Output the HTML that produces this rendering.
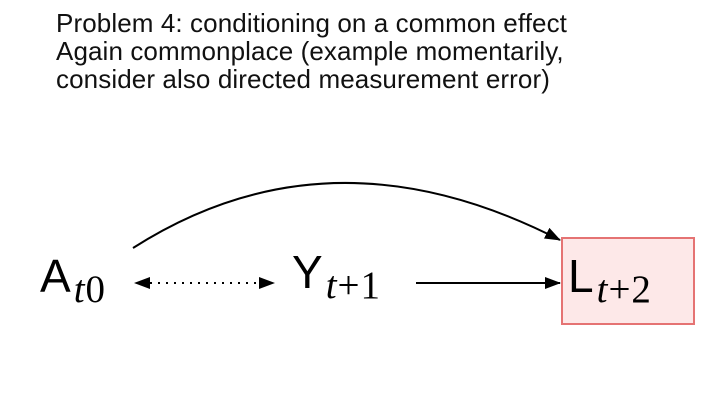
<!DOCTYPE html>
<html><head><style>
html,body{margin:0;padding:0;background:#fff;width:720px;height:405px;overflow:hidden;position:relative;font-family:"Liberation Sans",sans-serif}
.t{position:absolute;left:56px;top:9px;font-size:26px;line-height:28px;color:#111;letter-spacing:0.1px}
.n{position:absolute;font-size:46px;color:#000}
.n span{font-family:"Liberation Serif",serif;font-size:39px;position:relative;top:10px;margin-left:3px;letter-spacing:1px}
</style></head><body>
<div class="t">Problem 4: conditioning on a common effect<br>Again commonplace (example momentarily,<br>consider also directed measurement error)</div>
<svg width="720" height="405" style="position:absolute;left:0;top:0">
<defs><marker id="b" markerWidth="16" markerHeight="12" refX="15" refY="6" orient="auto" markerUnits="userSpaceOnUse"><path d="M0,0 L16,6 L0,12 Z" fill="#000"/></marker></defs>
<rect x="562" y="238" width="132" height="86" fill="#fde8e8" stroke="#e57373" stroke-width="2"/>
<path d="M133,248 Q330,122 560,240" fill="none" stroke="#000" stroke-width="2" marker-end="url(#b)"/>
<line x1="150" y1="283" x2="274" y2="283" stroke="#000" stroke-width="2" stroke-dasharray="2,6" marker-end="url(#b)"/>
<path d="M134,283 L150,277 L150,289 Z" fill="#000"/>
<line x1="416" y1="283" x2="560" y2="283" stroke="#000" stroke-width="2" marker-end="url(#b)"/>
</svg>
<div class="n" style="left:40px;top:249px">A<span><i>t</i>0</span></div>
<div class="n" style="left:292px;top:245px">Y<span><i>t</i>+1</span></div>
<div class="n" style="left:568px;top:249px">L<span><i>t</i>+2</span></div>
</body></html>
